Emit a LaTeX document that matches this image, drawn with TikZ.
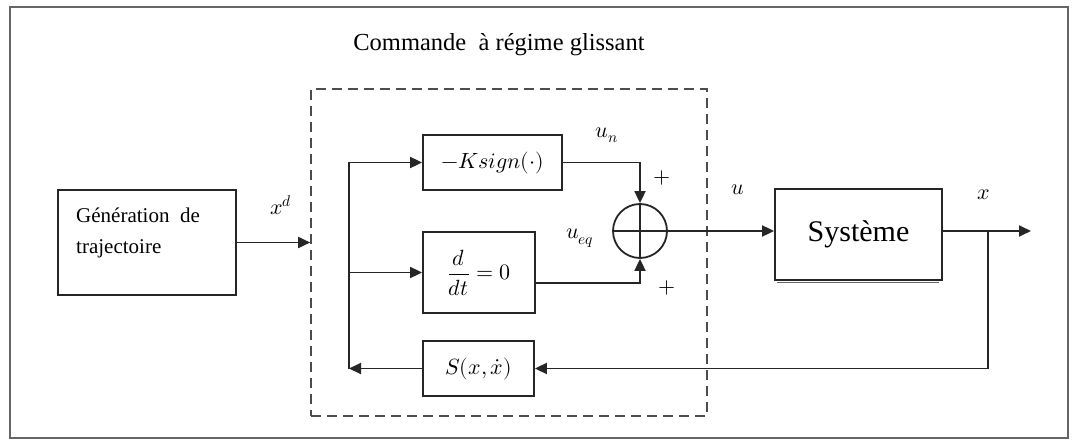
\documentclass[tikz,border=0pt]{standalone}
\usepackage{amsmath}
\usepackage{fontspec}
\usepackage{unicode-math}
\setmainfont{Liberation Serif}
\setmathfont{Latin Modern Math}
\usetikzlibrary{arrows.meta}

\begin{document}
\begin{tikzpicture}[
    x=1pt, y=-1pt,
    >={Triangle[length=12pt,width=11pt]},
    blk/.style={draw=black!85, line width=1.8pt, inner sep=0pt},
    sig/.style={draw=black!85, line width=1.8pt},
    lbl/.style={font=\fontsize{22}{26}\selectfont, inner sep=0pt},
]

% Page and outer frame
\useasboundingbox (0,0) rectangle (1074,441);
\draw[black!60, line width=1.8pt] (10,7) rectangle (1068,438);

% Trajectory generator
\node[blk, minimum width=178pt, minimum height=105pt] (gen) at (147,242.5) {};
\node[anchor=west, align=left, inner sep=0pt, font=\fontsize{21}{31}\selectfont] (gentxt) at (76,232.5) {G\'en\'eration\ \ de\\trajectoire};

% Sliding mode controller (dashed)
\node[draw=black!70, line width=1.6pt, dash pattern=on 10pt off 6pt, minimum width=396pt, minimum height=327pt] (ctrl) at (509,252.5) {};
\node[font=\fontsize{24.5}{29}\selectfont] (title) at (499,45) {Commande\ \ \`a r\'egime glissant};

% Inner blocks
\node[blk, lbl, minimum width=139pt, minimum height=55pt] (ksign) at (492.5,162.5) {$-Ksign(\cdot)$};
\node[blk, lbl, minimum width=112pt, minimum height=81pt] (deriv) at (479,272.5) {$\dfrac{d}{dt}=0$};
\node[blk, lbl, minimum width=111pt, minimum height=55pt] (surf) at (478.5,368.5) {$S(x,\dot{x})$};
\node[circle, sig, minimum size=54pt, inner sep=0pt] (sum) at (640,231) {};
\draw[sig] (sum.north) -- (sum.south) (sum.west) -- (sum.east);

% Plant
\node[blk, minimum width=167pt, minimum height=91pt, font=\fontsize{30}{36}\selectfont] (sys) at (858.5,234.5) {Syst\`eme};
\draw[black!60, line width=1pt] ([xshift=3pt,yshift=-2pt]sys.south west) -- ([xshift=-4pt,yshift=-2pt]sys.south east);

% Signal lines
\coordinate (bus) at (349,368.5);
\coordinate (tap) at (988,231);
\coordinate (out) at (1031,231);

\draw[sig,->] (gen.east) -- (gen.east -| ctrl.west);
\draw[sig,->] (surf.west) -- (surf.west -| bus);
\draw[sig,->] (surf.west -| bus) |- (ksign.west);
\draw[sig,->] (deriv.west -| bus) -- (deriv.west);
\draw[sig,->] (ksign.east) -| (sum.north);
\draw[sig,->] ([yshift=-10.5pt]deriv.east) -| (sum.south);
\draw[sig,->] (sum.east) -- (sum.east -| sys.west);
\draw[sig,->] (sys.east |- sum.east) -- (out);
\draw[sig,->] (tap) |- (surf.east);

% Labels
\node[lbl] (lxd) at (281,205) {$x^d$};
\node[lbl] (lun) at (607,135) {$u_n$};
\node[lbl] (lueq) at (580,238) {$u_{eq}$};
\node[lbl] (lplus1) at (662,178) {$+$};
\node[lbl] (lplus2) at (667,288) {$+$};
\node[lbl] (lu) at (738,190) {$u$};
\node[lbl] (lx) at (984,195) {$x$};

\end{tikzpicture}
\end{document}
